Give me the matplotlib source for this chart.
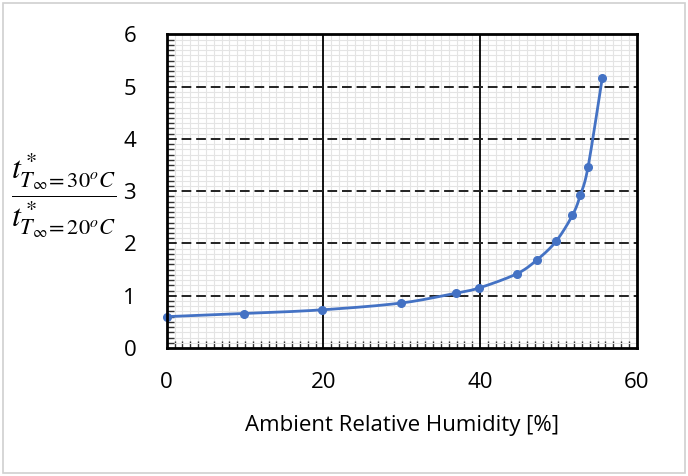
import numpy as np
import matplotlib
matplotlib.use("Agg")
import matplotlib.pyplot as plt
from matplotlib.ticker import MultipleLocator
from matplotlib.patches import Rectangle

# Data
humidity = [0.0, 9.9, 19.8, 29.9, 36.9, 39.9, 44.7, 47.3, 49.7, 51.8, 52.8, 53.8, 55.6]
ratio = [0.60, 0.66, 0.73, 0.86, 1.05, 1.15, 1.42, 1.69, 2.04, 2.54, 2.92, 3.47, 5.16]

x_ticks = [0, 20, 40, 60]
y_ticks = [0, 1, 2, 3, 4, 5, 6]

BLUE = "#4472C4"
FONT = ["Open Sans", "DejaVu Sans"]


def smooth(xs, ys, n=30):
    xs = np.asarray(xs, float)
    ys = np.asarray(ys, float)
    P = np.column_stack([xs, ys])
    P = np.vstack([P[0], P, P[-1]])
    out = []
    t = np.linspace(0, 1, n)
    for i in range(1, len(P) - 2):
        p0, p1, p2, p3 = P[i - 1], P[i], P[i + 1], P[i + 2]
        c1 = p1 + (p2 - p0) / 6.0
        c2 = p2 - (p3 - p1) / 6.0
        seg = ((1 - t)[:, None] ** 3 * p1 + 3 * ((1 - t) ** 2 * t)[:, None] * c1
               + 3 * ((1 - t) * t ** 2)[:, None] * c2 + (t ** 3)[:, None] * p2)
        out.append(seg)
    S = np.vstack(out)
    return S[:, 0], S[:, 1]


plt.rcParams["mathtext.fontset"] = "stix"

fig = plt.figure(figsize=(6.88, 4.76), dpi=100)
ax = fig.add_axes([0.2423, 0.2689, 0.6831, 0.6588])

ax.set_xlim(0, 60)
ax.set_ylim(0, 6)
ax.set_xticks(x_ticks)
ax.set_yticks(y_ticks)
ax.xaxis.set_minor_locator(MultipleLocator(1))
ax.yaxis.set_minor_locator(MultipleLocator(0.1))

ax.grid(which="minor", color="#e4e4e4", lw=0.8, zorder=0)
ax.set_axisbelow(True)
for xv in x_ticks[1:-1]:
    ax.axvline(xv, color="black", lw=1.3, zorder=1.5)
for yv in y_ticks[1:-1]:
    ax.axhline(yv, color="#222222", lw=1.4, ls=(0, (5, 2.5)), zorder=1.5)

sx, sy = smooth(humidity, ratio)
ax.plot(sx, sy, color=BLUE, lw=2.0, zorder=3, clip_on=False)
ax.plot(humidity, ratio, "o", color=BLUE, ms=5.5, zorder=4, clip_on=False)

for s in ax.spines.values():
    s.set_linewidth(2.0)
    s.set_color("black")
    s.set_zorder(5)

ax.tick_params(which="major", length=0, labelsize=16)
ax.tick_params(axis="x", which="major", pad=17)
ax.tick_params(axis="y", which="major", pad=22)
ax.tick_params(which="minor", direction="in", length=5, width=1.0, color="#333333")
for lab in ax.get_xticklabels() + ax.get_yticklabels():
    lab.set_fontfamily(FONT)

ax.set_xlabel("Ambient Relative Humidity [%]", fontsize=16,
              family=FONT, labelpad=16)

fig.text(0.093, 0.59,
         r"$\dfrac{t^*_{T_\infty\!=30^oC}}{t^*_{T_\infty\!=20^oC}}$",
         fontsize=23, ha="center", va="center")

fig.patches.append(Rectangle((0.004, 0.006), 0.992, 0.988, transform=fig.transFigure,
                             fill=False, edgecolor="#d0d0d0", lw=1.2))

fig.savefig("out.png", dpi=100)
